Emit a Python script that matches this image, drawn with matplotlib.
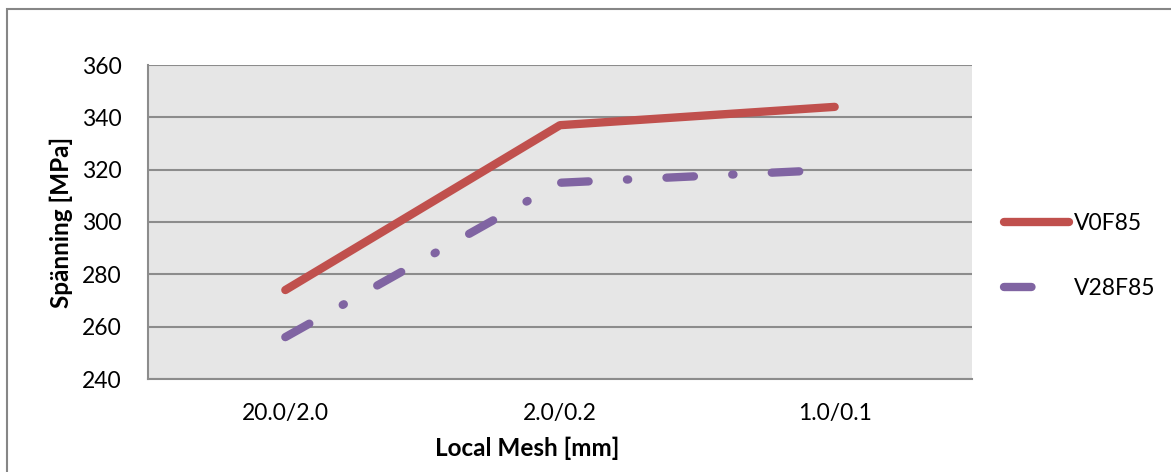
import matplotlib.pyplot as plt
from matplotlib.lines import Line2D
from matplotlib.patches import Rectangle

plt.rcParams['font.family'] = ['Lato', 'DejaVu Sans']

meshes = ['20.0/2.0', '2.0/0.2', '1.0/0.1']
v0f85 = [274, 337, 344]
v28f85 = [256, 315, 320]
yticks = [240, 260, 280, 300, 320, 340, 360]

red = '#C0504D'
purple = '#8064A2'
grid_c = '#8C8C8C'

fig = plt.figure(figsize=(11.71, 4.72), dpi=100)
ax = fig.add_axes([148/1171, 1-379/472, 824/1171, 314/472])
ax.set_facecolor('#E6E6E6')

x = range(len(meshes))
ax.plot(x, v0f85, color=red, lw=6, solid_capstyle='round', solid_joinstyle='round')
ax.plot(x, v28f85, color=purple, lw=6, dashes=(3.3, 4.6, 0.15, 4.6),
        dash_capstyle='round', dash_joinstyle='round')

ax.set_xlim(-0.5, 2.5)
ax.set_ylim(240, 360)
ax.set_yticks(yticks)
ax.set_xticks(list(x))
ax.set_xticklabels(meshes)
ax.tick_params(axis='both', length=0, labelsize=16.5)
ax.tick_params(axis='x', pad=17)
ax.tick_params(axis='y', pad=19)
ax.yaxis.grid(True, color=grid_c, lw=1.5)
ax.set_axisbelow(True)
for s in ['top', 'right']:
    ax.spines[s].set_visible(False)
for s in ['left', 'bottom']:
    ax.spines[s].set_color(grid_c)
    ax.spines[s].set_linewidth(1.5)

ax.set_xlabel('Local Mesh [mm]', fontsize=17.5, fontweight='bold')
ax.set_ylabel('Spänning [MPa]', fontsize=17.5, fontweight='bold')
ax.xaxis.set_label_coords((527-148)/824, -0.185)
ax.yaxis.label.set_va('center')
ax.yaxis.set_label_coords((61-148)/824, 0.5)

h1 = Line2D([], [], color=red, lw=6, solid_capstyle='round')
h2 = Line2D([], [], color=purple, lw=6, dashes=(3.3, 40), dash_capstyle='round')
fig.legend([h1, h2], ['V0F85', 'V28F85'], loc='center left',
           bbox_to_anchor=(983/1171, 1-256/472), frameon=False, fontsize=16.5,
           handlelength=2.85, labelspacing=1.95, handletextpad=0.2)

fig.add_artist(Rectangle((7/1171, -0.1), 1.2, 1 + 0.1 - 9/472, transform=fig.transFigure,
                         fill=False, edgecolor='#868686', lw=1.5))

fig.savefig('out.png', dpi=100)
